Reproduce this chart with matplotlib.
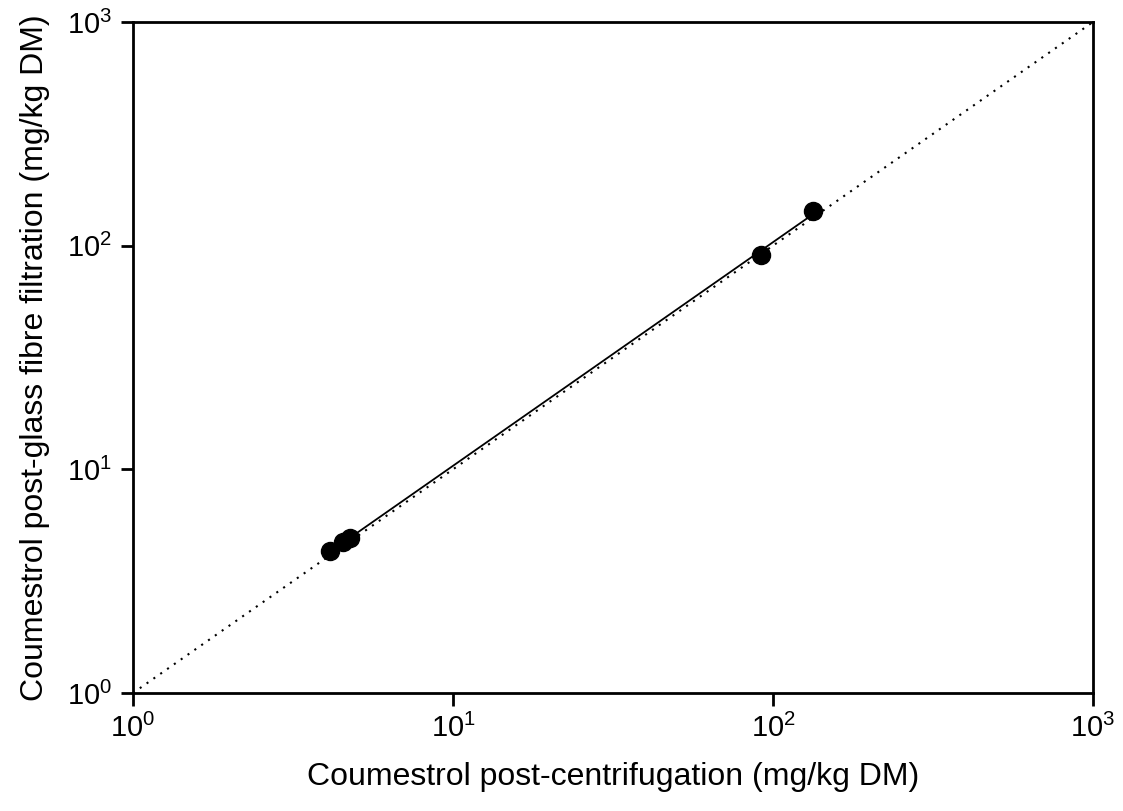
import numpy as np
import matplotlib
matplotlib.use('Agg')
import matplotlib.pyplot as plt

plt.rcParams['font.family'] = ['Liberation Sans', 'DejaVu Sans']

# coumestrol, mg/kg DM
centrifugation = [4.13, 4.53, 4.77, 91.7, 133.0]
glass_fibre = [4.30, 4.72, 4.92, 91.2, 143.0]
identity = [1, 1000]

x = np.array(centrifugation)
y = np.array(glass_fibre)
# regression in log space -> straight line on log-log axes
slope, intercept = np.polyfit(np.log10(x), np.log10(y), 1)
xfit = np.array([x.min(), x.max()])
yfit = 10 ** (intercept + slope * np.log10(xfit))

fig = plt.figure(figsize=(11.23, 8.11), dpi=100)
ax = fig.add_axes([0.1184, 0.1455, 0.8549, 0.8274])

ax.plot(identity, identity, color='black', linestyle=(0, (1, 3)), linewidth=1.5)
ax.plot(xfit, yfit, color='black', linewidth=1.3)
ax.plot(x, y, 'o', color='black', markersize=13)

ax.set_xscale('log')
ax.set_yscale('log')
ax.set_xlim(1, 1000)
ax.set_ylim(1, 1000)
ax.minorticks_off()
ax.tick_params(direction='out', length=9, width=2, labelsize=21, pad=6)
for s in ax.spines.values():
    s.set_linewidth(2)

ax.set_xlabel('Coumestrol post-centrifugation (mg/kg DM)', fontsize=23, labelpad=14)
ax.set_ylabel('Coumestrol post-glass fibre filtration (mg/kg DM)', fontsize=23, labelpad=12)

fig.savefig('out.png', dpi=100)
